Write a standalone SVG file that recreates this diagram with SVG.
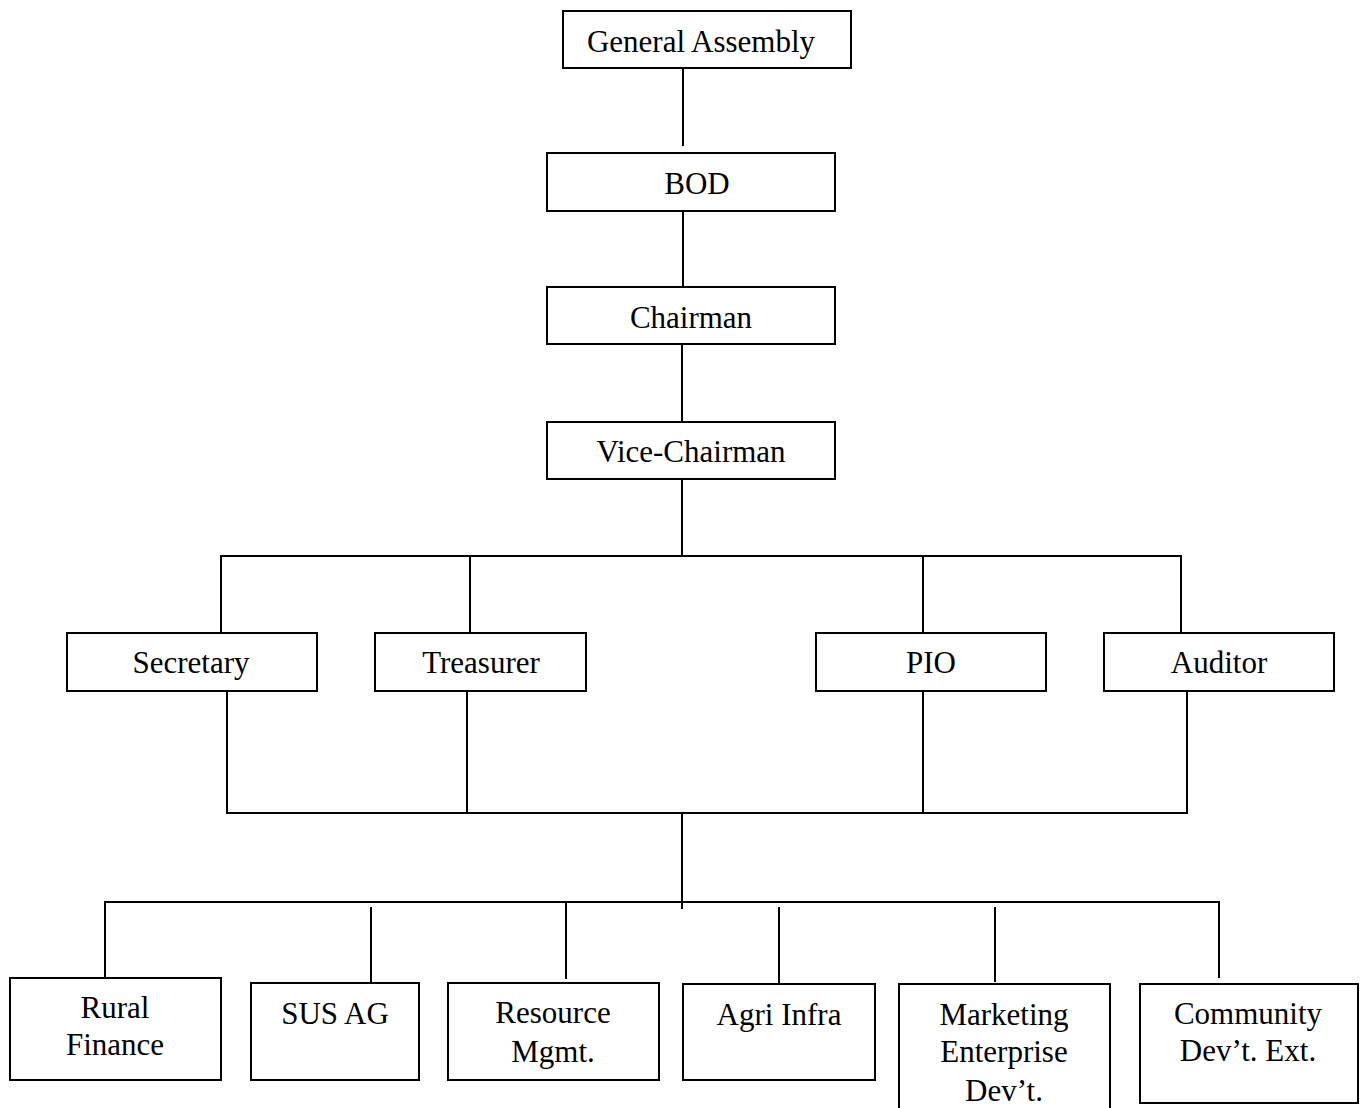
<svg xmlns="http://www.w3.org/2000/svg" width="1364" height="1108" viewBox="0 0 1364 1108">
<style>
rect.box{fill:#fff;stroke:#000;stroke-width:2}
.c line{stroke:#000;stroke-width:2}
text{font-family:"Liberation Serif","Times New Roman",serif;font-size:31px;fill:#000;text-anchor:middle}
</style>
<rect width="1364" height="1108" fill="#fff"/>
<g class="c" id="connectors">
<line x1="683" y1="68" x2="683" y2="146"/>
<line x1="683" y1="211" x2="683" y2="287"/>
<line x1="682" y1="344" x2="682" y2="422"/>
<line x1="682" y1="479" x2="682" y2="556"/>
<line x1="220" y1="556" x2="1182" y2="556"/>
<line x1="221" y1="556" x2="221" y2="633"/>
<line x1="470" y1="556" x2="470" y2="633"/>
<line x1="923" y1="556" x2="923" y2="633"/>
<line x1="1181" y1="556" x2="1181" y2="633"/>
<line x1="227" y1="691" x2="227" y2="813"/>
<line x1="467" y1="691" x2="467" y2="813"/>
<line x1="923" y1="691" x2="923" y2="813"/>
<line x1="1187" y1="691" x2="1187" y2="813"/>
<line x1="226" y1="813" x2="1188" y2="813"/>
<line x1="682" y1="813" x2="682" y2="909"/>
<line x1="104" y1="902" x2="1220" y2="902"/>
<line x1="105" y1="902" x2="105" y2="978"/>
<line x1="371" y1="907" x2="371" y2="983"/>
<line x1="566" y1="902" x2="566" y2="979"/>
<line x1="779" y1="907" x2="779" y2="984"/>
<line x1="995" y1="907" x2="995" y2="982"/>
<line x1="1219" y1="902" x2="1219" y2="978"/>
</g>
<g id="general-assembly"><rect class="box" x="563" y="11" width="288" height="57"/><text x="701" y="52">General Assembly</text></g>
<g id="bod"><rect class="box" x="547" y="153" width="288" height="58"/><text x="697" y="194">BOD</text></g>
<g id="chairman"><rect class="box" x="547" y="287" width="288" height="57"/><text x="691" y="328">Chairman</text></g>
<g id="vice-chairman"><rect class="box" x="547" y="422" width="288" height="57"/><text x="691" y="462">Vice-Chairman</text></g>
<g id="secretary"><rect class="box" x="67" y="633" width="250" height="58"/><text x="191" y="673">Secretary</text></g>
<g id="treasurer"><rect class="box" x="375" y="633" width="211" height="58"/><text x="481" y="673">Treasurer</text></g>
<g id="pio"><rect class="box" x="816" y="633" width="230" height="58"/><text x="931" y="673">PIO</text></g>
<g id="auditor"><rect class="box" x="1104" y="633" width="230" height="58"/><text x="1219" y="673">Auditor</text></g>
<g id="rural-finance"><rect class="box" x="10" y="978" width="211" height="102"/><text x="115" y="1018">Rural</text><text x="115" y="1055">Finance</text></g>
<g id="sus-ag"><rect class="box" x="251" y="983" width="168" height="97"/><text x="335" y="1024">SUS AG</text></g>
<g id="resource-mgmt"><rect class="box" x="448" y="983" width="211" height="97"/><text x="553" y="1023">Resource</text><text x="553" y="1062">Mgmt.</text></g>
<g id="agri-infra"><rect class="box" x="683" y="984" width="192" height="96"/><text x="779" y="1025">Agri Infra</text></g>
<g id="marketing"><rect class="box" x="899" y="984" width="211" height="140"/><text x="1004" y="1025">Marketing</text><text x="1004" y="1062">Enterprise</text><text x="1004" y="1101">Dev’t.</text></g>
<g id="community"><rect class="box" x="1140" y="984" width="218" height="119"/><text x="1248" y="1024">Community</text><text x="1248" y="1061">Dev’t. Ext.</text></g>
</svg>
